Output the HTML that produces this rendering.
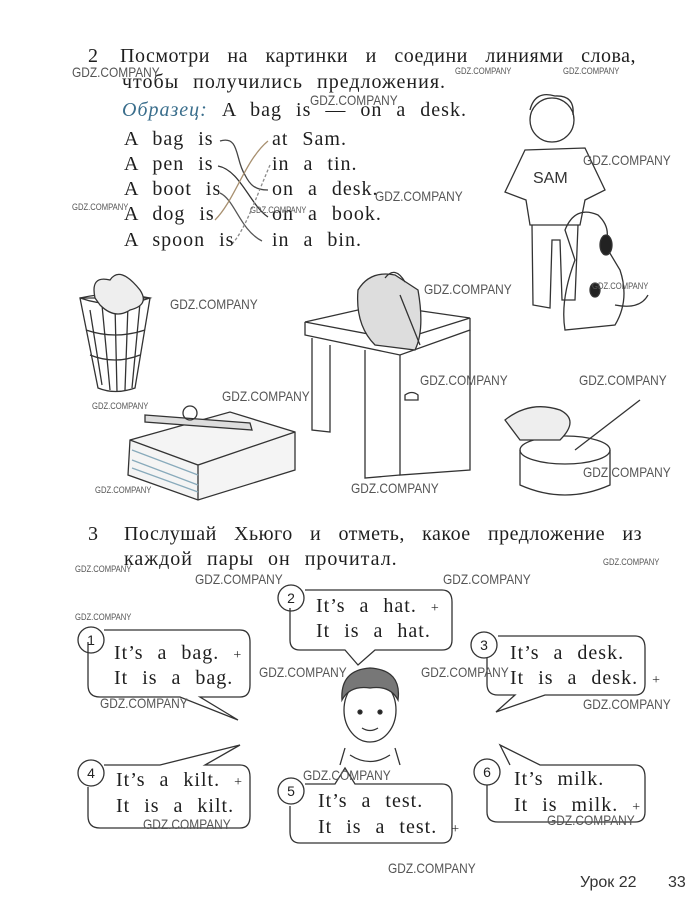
<!DOCTYPE html>
<html><head><meta charset="utf-8"><style>
body{margin:0;background:#fff}
#p{position:relative;width:700px;height:919px;overflow:hidden;background:#fff;font-family:"Liberation Serif","Noto Serif CJK SC",serif;color:#1e1e1e}
.t{position:absolute;font-size:20px;white-space:nowrap;word-spacing:8px;letter-spacing:1px;line-height:20px}
.w{position:absolute;font-family:"Liberation Sans",sans-serif;font-size:14px;color:#555;transform:scaleX(.85);transform-origin:left;white-space:nowrap}
.ws{font-size:9px}
svg{position:absolute;left:0;top:0}
</style></head><body><div id="p">
<svg width="700" height="919" fill="none" stroke="#333" stroke-width="1.3">
<path d="M220 141 C240 135 235 160 245 175 C250 185 255 190 268 190" stroke="#444"/>
<path d="M218 166 C240 170 250 205 268 217" stroke="#333"/>
<path d="M220 193 C235 200 240 230 262 241" stroke="#555"/>
<path d="M215 220 C235 200 245 160 268 141" stroke="#a89070"/>
<path d="M232 244 C245 230 255 200 270 165" stroke="#8a8a8a" stroke-dasharray="3 2"/>
<path d="M80 298 L98 388 Q115 395 135 388 L150 298 Z"/><path d="M80 298 Q115 310 150 298 Q115 290 80 298"/>
<path d="M90 310 L102 385 M102 305 L110 390 M115 305 L117 392 M128 305 L125 390 M140 303 L132 388"/>
<path d="M86 330 Q115 340 145 330 M90 355 Q115 365 140 355"/>
<path d="M95 298 Q90 275 110 280 Q120 265 140 290 Q150 305 130 310 Q115 320 100 305 Z" fill="#eee"/>
<path d="M305 322 L380 305 L470 318 L400 340 Z"/><path d="M305 322 L305 335 L400 355 L470 330 L470 318"/>
<path d="M400 355 L400 475 L470 470 L470 330"/><path d="M312 338 L312 430 L330 432 L330 345"/><path d="M365 350 L365 478 L400 475"/>
<path d="M405 395 Q412 390 418 395 L418 400 L405 400 Z"/>
<path d="M358 290 Q370 270 395 275 L418 290 Q425 330 415 350 L375 345 Q355 325 358 290 Z" fill="#ddd"/>
<path d="M385 278 Q395 265 405 282" /><path d="M400 295 L420 345"/>
<circle cx="552" cy="120" r="22"/><path d="M530 110 Q535 90 555 96 Q575 95 573 115"/>
<path d="M525 150 L585 148 L605 190 L585 200 L580 225 L530 225 L526 200 L505 192 Z"/>
<text x="533" y="183" font-family="Liberation Sans" font-size="16" fill="#333" stroke="none">SAM</text>
<path d="M532 225 L533 305 L550 308 L552 240 L560 240 L562 300 L575 300 L578 225"/>
<path d="M565 230 Q575 205 598 215 Q612 228 605 245 L620 270 Q630 300 615 325 L565 330 Q560 300 575 260 Z"/>
<ellipse cx="606" cy="245" rx="6" ry="10" fill="#222"/><ellipse cx="595" cy="290" rx="5" ry="7" fill="#222"/>
<path d="M615 305 Q640 310 648 295"/>
<path d="M130 440 L230 412 L295 432 L295 470 L198 500 L128 475 Z" fill="#f4f4f4"/>
<path d="M130 440 L198 465 L295 432 M198 465 L198 500"/>
<path d="M132 450 L198 475 M132 460 L198 485 M132 468 L198 492" stroke="#8ab"/>
<path d="M145 415 L250 423 L252 430 L145 422 Z" fill="#ddd"/><circle cx="190" cy="413" r="7"/>
<ellipse cx="565" cy="450" rx="45" ry="14"/><path d="M520 450 L520 485 Q565 505 610 485 L610 450"/>
<path d="M505 420 Q530 400 560 410 Q580 420 560 440 L520 440 Z" fill="#eee"/><path d="M575 450 L640 400"/>
<path d="M104 630 L240 630 Q250 630 250 642 L250 685 Q250 697 240 697 L200 697 L238 720 L180 697 L100 697 Q88 697 88 685 L88 642"/>
<circle cx="91" cy="640" r="13"/>
<path d="M305 590 L442 590 Q452 590 452 602 L452 640 Q452 650 442 650 L375 650 L358 665 L345 650 L300 650 Q290 650 290 640 L290 608"/>
<circle cx="291" cy="598" r="13"/>
<path d="M498 636 L635 636 Q645 636 645 648 L645 684 Q645 695 635 695 L545 695 L496 712 L515 695 L498 695 Q487 695 487 684 L487 658"/>
<circle cx="484" cy="645" r="13"/>
<path d="M104 765 L160 765 L240 745 L205 765 L240 765 Q250 765 250 777 L250 816 Q250 828 240 828 L100 828 Q88 828 88 816 L88 787"/>
<circle cx="91" cy="773" r="13"/>
<path d="M305 784 L335 784 L345 768 L355 784 L442 784 Q452 784 452 796 L452 832 Q452 843 442 843 L300 843 Q290 843 290 832 L290 806"/>
<circle cx="291" cy="791" r="13"/>
<path d="M510 765 L500 745 L540 765 L635 765 Q645 765 645 777 L645 812 Q645 822 635 822 L498 822 Q487 822 487 812 L487 785"/>
<circle cx="487" cy="772" r="13"/>
<g font-family="Liberation Sans" font-size="14" fill="#222" stroke="none" text-anchor="middle">
<text x="91" y="645">1</text><text x="291" y="603">2</text><text x="484" y="650">3</text><text x="91" y="778">4</text><text x="291" y="796">5</text><text x="487" y="777">6</text></g>
<ellipse cx="370" cy="710" rx="26" ry="32" fill="#fff"/>
<path d="M342 700 Q340 670 370 668 Q402 670 398 700 Q390 685 370 688 Q350 685 342 700 Z" fill="#777"/>
<path d="M345 748 L340 765 M395 748 L400 765 M350 755 Q370 768 390 755"/>
<circle cx="360" cy="712" r="2" fill="#222"/><circle cx="380" cy="712" r="2" fill="#222"/><path d="M362 728 Q370 733 378 728"/>
</svg>
<div class="t" style="left:88px;top:46px">2</div>
<div class="t" style="left:120px;top:46px;width:516px;text-align-last:justify;letter-spacing:.5px">Посмотри на картинки и соедини линиями слова,</div>
<div class="t" style="left:122px;top:72px">чтобы получились предложения.</div>
<div class="t" style="left:122px;top:100px"><i style="color:#3a6e8c">Образец:</i> A bag is — on a desk.</div>
<div class="t" style="left:124px;top:129px">A bag is</div>
<div class="t" style="left:124px;top:154px">A pen is</div>
<div class="t" style="left:124px;top:179px">A boot is</div>
<div class="t" style="left:124px;top:204px">A dog is</div>
<div class="t" style="left:124px;top:230px">A spoon is</div>
<div class="t" style="left:272px;top:129px">at Sam.</div>
<div class="t" style="left:272px;top:154px">in a tin.</div>
<div class="t" style="left:272px;top:179px">on a desk.</div>
<div class="t" style="left:272px;top:204px">on a book.</div>
<div class="t" style="left:272px;top:230px">in a bin.</div>
<div class="t" style="left:88px;top:524px">3</div>
<div class="t" style="left:124px;top:524px;width:518px;text-align-last:justify;letter-spacing:.5px">Послушай Хьюго и отметь, какое предложение из</div>
<div class="t" style="left:124px;top:549px">каждой пары он прочитал.</div>
<div class="t" style="left:114px;top:643px">It’s a bag. <span style="font-size:14px">+</span></div>
<div class="t" style="left:114px;top:668px">It is a bag.</div>
<div class="t" style="left:316px;top:596px">It’s a hat. <span style="font-size:14px">+</span></div>
<div class="t" style="left:316px;top:621px">It is a hat.</div>
<div class="t" style="left:510px;top:643px">It’s a desk.</div>
<div class="t" style="left:510px;top:668px">It is a desk. <span style="font-size:14px">+</span></div>
<div class="t" style="left:116px;top:770px">It’s a kilt. <span style="font-size:14px">+</span></div>
<div class="t" style="left:116px;top:796px">It is a kilt.</div>
<div class="t" style="left:318px;top:791px">It’s a test.</div>
<div class="t" style="left:318px;top:817px">It is a test. <span style="font-size:14px">+</span></div>
<div class="t" style="left:514px;top:769px">It’s milk.</div>
<div class="t" style="left:514px;top:795px">It is milk. <span style="font-size:14px">+</span></div>
<div style="position:absolute;left:580px;top:874px;font-family:'Liberation Sans',sans-serif;font-size:16px;color:#333">Урок 22</div>
<div style="position:absolute;left:668px;top:874px;font-family:'Liberation Sans',sans-serif;font-size:16px;color:#333">33</div>
<div class="w" style="left:72px;top:64px">GDZ.COMPANY</div>
<div class="w" style="left:310px;top:92px">GDZ.COMPANY</div>
<div class="w ws" style="left:455px;top:66px">GDZ.COMPANY</div>
<div class="w ws" style="left:563px;top:66px">GDZ.COMPANY</div>
<div class="w" style="left:375px;top:188px">GDZ.COMPANY</div>
<div class="w ws" style="left:72px;top:202px">GDZ.COMPANY</div>
<div class="w ws" style="left:250px;top:205px">GDZ.COMPANY</div>
<div class="w" style="left:583px;top:152px">GDZ.COMPANY</div>
<div class="w" style="left:170px;top:296px">GDZ.COMPANY</div>
<div class="w" style="left:424px;top:281px">GDZ.COMPANY</div>
<div class="w ws" style="left:592px;top:281px">GDZ.COMPANY</div>
<div class="w" style="left:222px;top:388px">GDZ.COMPANY</div>
<div class="w" style="left:420px;top:372px">GDZ.COMPANY</div>
<div class="w" style="left:579px;top:372px">GDZ.COMPANY</div>
<div class="w ws" style="left:92px;top:401px">GDZ.COMPANY</div>
<div class="w" style="left:583px;top:464px">GDZ.COMPANY</div>
<div class="w ws" style="left:95px;top:485px">GDZ.COMPANY</div>
<div class="w" style="left:351px;top:480px">GDZ.COMPANY</div>
<div class="w ws" style="left:75px;top:564px">GDZ.COMPANY</div>
<div class="w ws" style="left:603px;top:557px">GDZ.COMPANY</div>
<div class="w" style="left:195px;top:571px">GDZ.COMPANY</div>
<div class="w" style="left:443px;top:571px">GDZ.COMPANY</div>
<div class="w ws" style="left:75px;top:612px">GDZ.COMPANY</div>
<div class="w" style="left:259px;top:664px">GDZ.COMPANY</div>
<div class="w" style="left:421px;top:664px">GDZ.COMPANY</div>
<div class="w" style="left:100px;top:695px">GDZ.COMPANY</div>
<div class="w" style="left:583px;top:696px">GDZ.COMPANY</div>
<div class="w" style="left:303px;top:767px">GDZ.COMPANY</div>
<div class="w" style="left:143px;top:816px">GDZ.COMPANY</div>
<div class="w" style="left:547px;top:812px">GDZ.COMPANY</div>
<div class="w" style="left:388px;top:860px">GDZ.COMPANY</div>
</div></body></html>
